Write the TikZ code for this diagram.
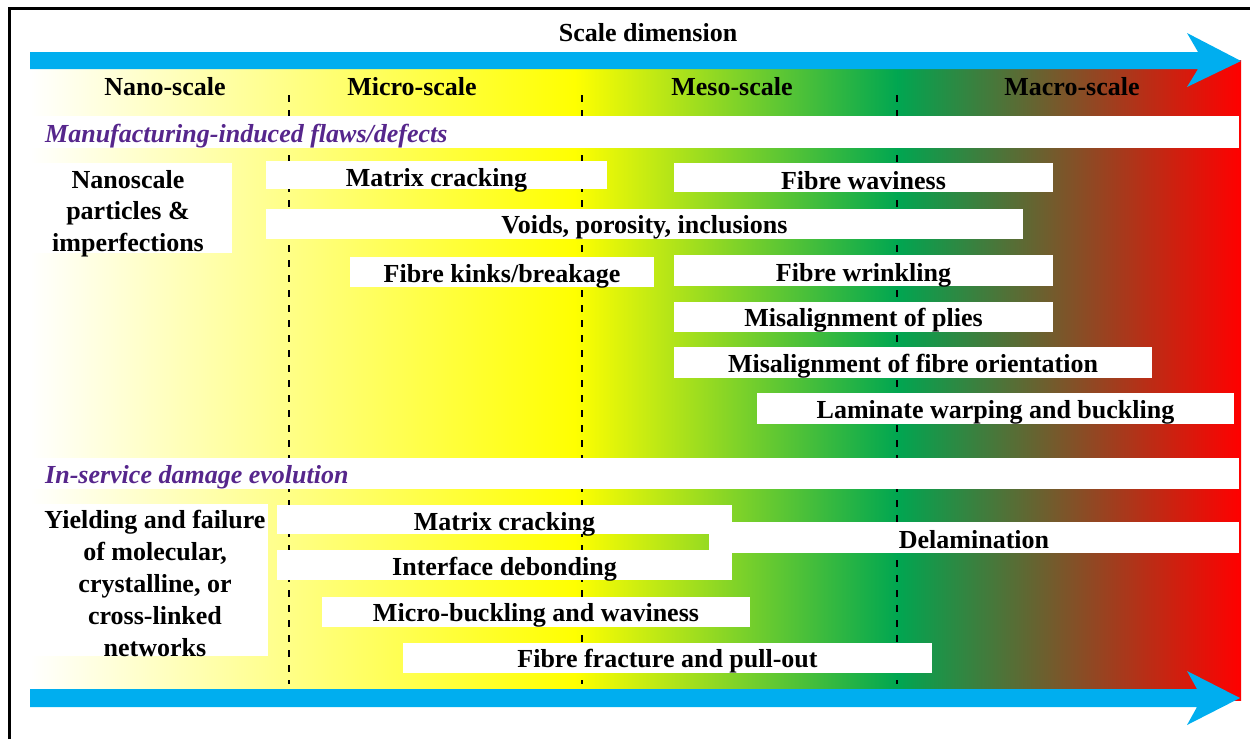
\documentclass[tikz,border=0pt]{standalone}
\usepackage{fontspec}
\setmainfont{Liberation Serif}
\definecolor{cyanA}{RGB}{0,174,239}
\definecolor{grn}{RGB}{0,166,81}
\definecolor{purp}{RGB}{86,38,140}
\begin{document}
\begin{tikzpicture}[x=1pt,y=-1pt,
  wbox/.style={fill=white},
  lbl/.style={inner sep=0pt, anchor=base, font=\fontsize{26}{31.5}\selectfont\bfseries},
  multi/.style={inner sep=0pt, anchor=center, align=center, font=\fontsize{26}{#1}\selectfont\bfseries},
  sec/.style={inner sep=0pt, anchor=base west, text=purp, font=\fontsize{26}{31.5}\selectfont\bfseries\itshape},
  scaleline/.style={line width=2.8pt, dash pattern=on 7pt off 8pt},
  axisarrow/.style={fill=cyanA}]
\useasboundingbox (0,0) rectangle (1250,739);
% frame
\draw[line width=3pt] (9.5,739) -- (9.5,8) -- (1250,8);
% colour gradient
\shade[left color=white, right color=yellow] (30,60) rectangle (576,700);
\shade[left color=yellow, right color=grn] (575,60) rectangle (898,700);
\shade[left color=grn, right color=red] (897,60) rectangle (1241,700);
% dashed scale separators
\coordinate (d1t) at (289,95); \coordinate (d1b) at (289,684);
\coordinate (d2t) at (582,95); \coordinate (d2b) at (582,684);
\coordinate (d3t) at (897,95); \coordinate (d3b) at (897,684);
\draw[scaleline] (d1t) -- (d1b);
\draw[scaleline] (d2t) -- (d2b);
\draw[scaleline] (d3t) -- (d3b);
% white bands and boxes
\path[wbox] (30,116) rectangle (1239,148);
\path[wbox] (30,458) rectangle (1239,489);
\path[wbox] (30,163) rectangle (232,253);
\path[wbox] (266,161) rectangle (607,189);
\path[wbox] (674,163) rectangle (1053,192);
\path[wbox] (266,209) rectangle (1023,239);
\path[wbox] (350,257) rectangle (654,287);
\path[wbox] (674,255) rectangle (1053,286);
\path[wbox] (674,302) rectangle (1053,332);
\path[wbox] (674,347) rectangle (1152,378);
\path[wbox] (757,393) rectangle (1234,424);
\path[wbox] (30,504) rectangle (268,656);
\path[wbox] (277,505) rectangle (732,534);
\path[wbox] (709,522) rectangle (1239,553);
\path[wbox] (277,550) rectangle (732,580);
\path[wbox] (322,597) rectangle (750,627);
\path[wbox] (403,643) rectangle (932,673);
% axis arrows
\fill[axisarrow] (30,52) -- (1198,52) -- (1187,33) -- (1241,61) -- (1187,87) -- (1198,69) -- (30,69) -- cycle;
\fill[axisarrow] (30,689) -- (1197,689) -- (1187,671) -- (1240,698) -- (1187,725) -- (1197,707) -- (30,707) -- cycle;
% texts
\node[lbl] (title) at (648,41) {Scale dimension};
\node[lbl] (nano) at (165,95.5) {Nano-scale};
\node[lbl] (micro) at (412,95.5) {Micro-scale};
\node[lbl] (meso) at (732,95.5) {Meso-scale};
\node[lbl] (macro) at (1072,95.5) {Macro-scale};
\node[sec] (manuf) at (45,142) {Manufacturing-induced flaws/defects};
\node[sec] (inserv) at (45,483) {In-service damage evolution};
\node[multi=31.5] (nanop) at (128,213.4) {Nanoscale\\particles \&\\imperfections};
\node[lbl] (mc1) at (436.5,186) {Matrix cracking};
\node[lbl] (fw) at (863.5,189) {Fibre waviness};
\node[lbl] (voids) at (644.5,233) {Voids, porosity, inclusions};
\node[lbl] (kinks) at (502,282) {Fibre kinks/breakage};
\node[lbl] (wrink) at (863.5,281) {Fibre wrinkling};
\node[lbl] (plies) at (863.5,326) {Misalignment of plies};
\node[lbl] (orient) at (913,372) {Misalignment of fibre orientation};
\node[lbl] (warp) at (995.5,418) {Laminate warping and buckling};
\node[multi=32] (yield) at (155,583.1) {Yielding and failure\\of molecular,\\crystalline, or\\cross-linked\\networks};
\node[lbl] (mc2) at (504.5,530) {Matrix cracking};
\node[lbl] (delam) at (974,548) {Delamination};
\node[lbl] (debond) at (504.5,575) {Interface debonding};
\node[lbl] (mbuck) at (536,621) {Micro-buckling and waviness};
\node[lbl] (fract) at (667.5,667) {Fibre fracture and pull-out};
\end{tikzpicture}
\end{document}
